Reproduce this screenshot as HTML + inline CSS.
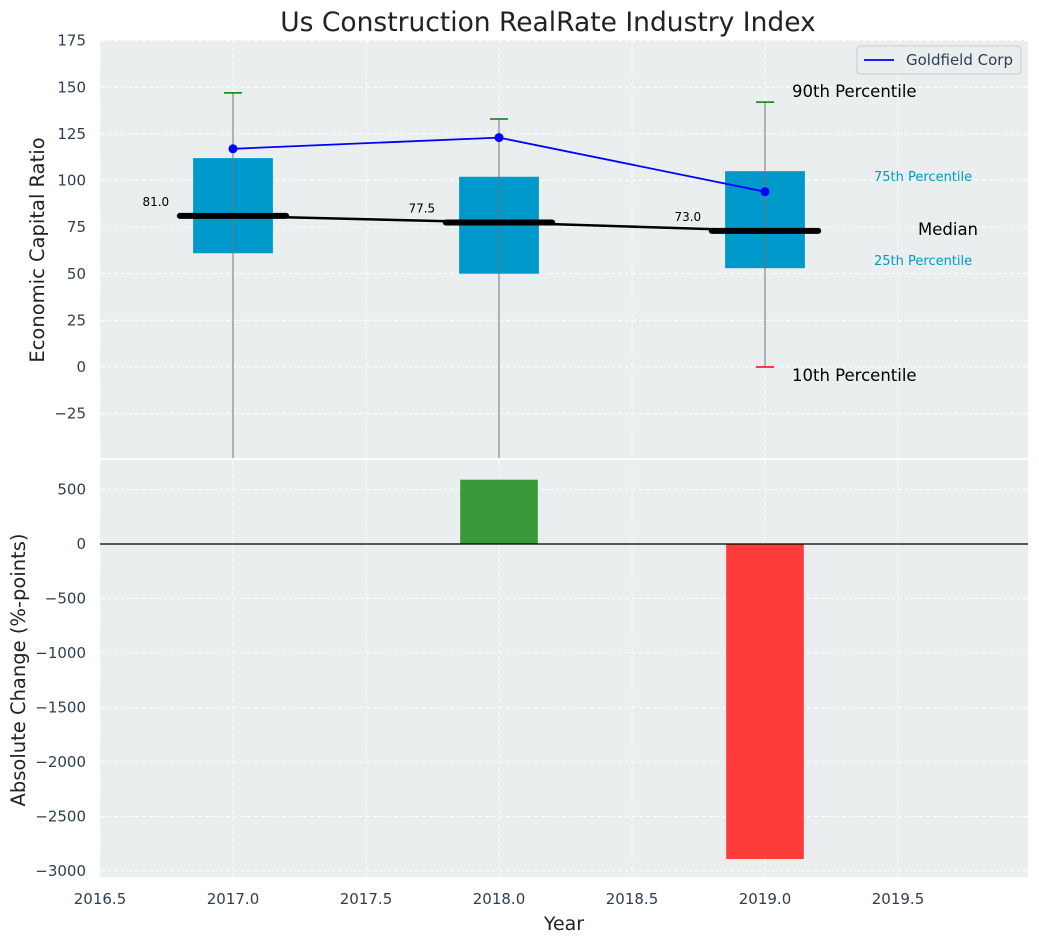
<!DOCTYPE html>
<html><head><meta charset="utf-8"><style>
body{margin:0;background:#fff;font-family:"Liberation Sans","DejaVu Sans",sans-serif}
svg text{font-family:"DejaVu Sans","Liberation Sans",sans-serif}
</style></head><body>
<svg id="c" width="1039" height="942"></svg>
<script>
const years=[2017,2018,2019];
const p10=[-60,-60,0];
const p25=[61,50,53];
const medians=[81,77.5,73];
const p75=[112,102,105];
const p90=[147,133,142];
const company=[117,123,94];
const changes=[0,590,-2890];
const topTicks=[-25,0,25,50,75,100,125,150,175];
const botTicks=[-3000,-2500,-2000,-1500,-1000,-500,0,500];
const xTicks=[2016.5,2017,2017.5,2018,2018.5,2019,2019.5];
const NS='http://www.w3.org/2000/svg';
const svgEl=document.getElementById('c');
function el(t,a,p){const e=document.createElementNS(NS,t);for(const k in a)e.setAttribute(k,a[k]);(p||svgEl).appendChild(e);return e;}
const L=100,R=1028,T1=40,B1=458,T2=460,B2=877;
const x=v=>L+(v-2016.5)*266;
const y1=v=>367-v*1.865;
const y2=v=>544-v*0.109;
let bg=el('rect',{x:L,y:T1,width:R-L,height:B1-T1,fill:'#eaeeee'});

let bg2=el('rect',{x:L,y:T2,width:R-L,height:B2-T2,fill:'#eaeeee'});

const gridG=el('g',{});

xTicks.forEach(v=>{el('line',{x1:x(v),x2:x(v),y1:T1,y2:B1,stroke:'#fff','stroke-dasharray':'4,3'},gridG);el('line',{x1:x(v),x2:x(v),y1:T2,y2:B2,stroke:'#fff','stroke-dasharray':'4,3'},gridG);
 const t=el('text',{x:x(v),y:904,'text-anchor':'middle','font-size':15,fill:'#2d3e50'});t.textContent=v.toFixed(1);
 });
topTicks.forEach(v=>{el('line',{x1:L,x2:R,y1:y1(v),y2:y1(v),stroke:'#fff','stroke-dasharray':'4,3'},gridG);
 const t=el('text',{x:86,y:y1(v)+5,'text-anchor':'end','font-size':15,fill:'#2d3e50'});t.textContent=v<0?'\u2212'+(-v):v;
 });
botTicks.forEach(v=>{el('line',{x1:L,x2:R,y1:y2(v),y2:y2(v),stroke:'#fff','stroke-dasharray':'4,3'},gridG);
 const t=el('text',{x:86,y:y2(v)+5,'text-anchor':'end','font-size':15,fill:'#2d3e50'});t.textContent=v<0?'\u2212'+(-v):v;
 });
const defs=el('defs',{});const cp=el('clipPath',{id:'cp1'},defs);el('rect',{x:L,y:T1,width:R-L,height:B1-T1},cp);
const topG=el('g',{'clip-path':'url(#cp1)'});
years.forEach((yr,i)=>{
 const w=el('line',{x1:x(yr),x2:x(yr),y1:y1(p90[i]),y2:y1(p10[i]),stroke:'#777','stroke-width':1},topG);
 
 const b=el('rect',{x:x(yr-0.15),y:y1(p75[i]),width:0.3*266,height:y1(p25[i])-y1(p75[i]),fill:'#0099cc'},topG);
 
 el('line',{x1:x(yr),x2:x(yr),y1:y1(p75[i]),y2:y1(p25[i]),stroke:'#777','stroke-width':1},topG);
 const c=el('line',{x1:x(yr)-9,x2:x(yr)+9,y1:y1(p90[i]),y2:y1(p90[i]),stroke:'green','stroke-width':1.5},topG);
 
 const c2=el('line',{x1:x(yr)-9,x2:x(yr)+9,y1:y1(p10[i]),y2:y1(p10[i]),stroke:'red','stroke-width':1.5},topG);
 
});
const ml=el('polyline',{points:years.map((yr,i)=>x(yr)+','+y1(medians[i])).join(' '),fill:'none',stroke:'#000','stroke-width':2.5},topG);

years.forEach((yr,i)=>{
 const m=el('line',{x1:x(yr-0.2),x2:x(yr+0.2),y1:y1(medians[i]),y2:y1(medians[i]),stroke:'#000','stroke-width':6,'stroke-linecap':'round'},topG);
 
 const t=el('text',{x:x(yr-0.24),y:y1(medians[i])-10,'text-anchor':'end','font-size':12,fill:'#000'});t.textContent=medians[i].toFixed(1);
 
});
const cl=el('polyline',{points:years.map((yr,i)=>x(yr)+','+y1(company[i])).join(' '),fill:'none',stroke:'blue','stroke-width':1.8},topG);

years.forEach((yr,i)=>{const p=el('circle',{cx:x(yr),cy:y1(company[i]),r:4.5,fill:'blue'},topG);
 });
const ann=[[792,97,'90th Percentile',16.5,'#000'],[874,181,'75th Percentile',13,'#0099cc'],[918,235,'Median',16.5,'#000'],[874,265,'25th Percentile',13,'#0099cc'],[792,381,'10th Percentile',16.5,'#000']];
ann.forEach(a=>{const t=el('text',{x:a[0],y:a[1],'font-size':a[3],fill:a[4]});t.textContent=a[2];
 });
const lg=el('g',{});
el('rect',{x:857,y:46,width:164,height:28,rx:3,fill:'#eaeeee',stroke:'#ccc'},lg);
el('line',{x1:864,x2:894,y1:60,y2:60,stroke:'blue','stroke-width':1.8},lg);
const lt=el('text',{x:906,y:65,'font-size':15,fill:'#2d3e50'},lg);lt.textContent='Goldfield Corp';
years.forEach((yr,i)=>{const v=changes[i];if(v===0)return;
 const b=el('rect',{x:x(yr-0.146),y:Math.min(y2(v),y2(0)),width:0.292*266,height:Math.abs(y2(v)-y2(0)),fill:v>0?'#3a9a3a':'#ff3c3c'});
 });
el('line',{x1:L,x2:R,y1:y2(0),y2:y2(0),stroke:'#000','stroke-width':1.2});
const tt=el('text',{x:548,y:31,'text-anchor':'middle','font-size':26.5,fill:'#222'});tt.textContent='Us Construction RealRate Industry Index';

const xt=el('text',{x:564,y:930,'text-anchor':'middle','font-size':19,fill:'#222'});xt.textContent='Year';

const yt=el('text',{x:0,y:0,'text-anchor':'middle','font-size':19.5,fill:'#222',transform:'translate(44,250) rotate(-90)'});yt.textContent='Economic Capital Ratio';

const yb=el('text',{x:0,y:0,'text-anchor':'middle','font-size':19.5,fill:'#222',transform:'translate(25,670) rotate(-90)'});yb.textContent='Absolute Change (%-points)';

</script>
</body></html>
